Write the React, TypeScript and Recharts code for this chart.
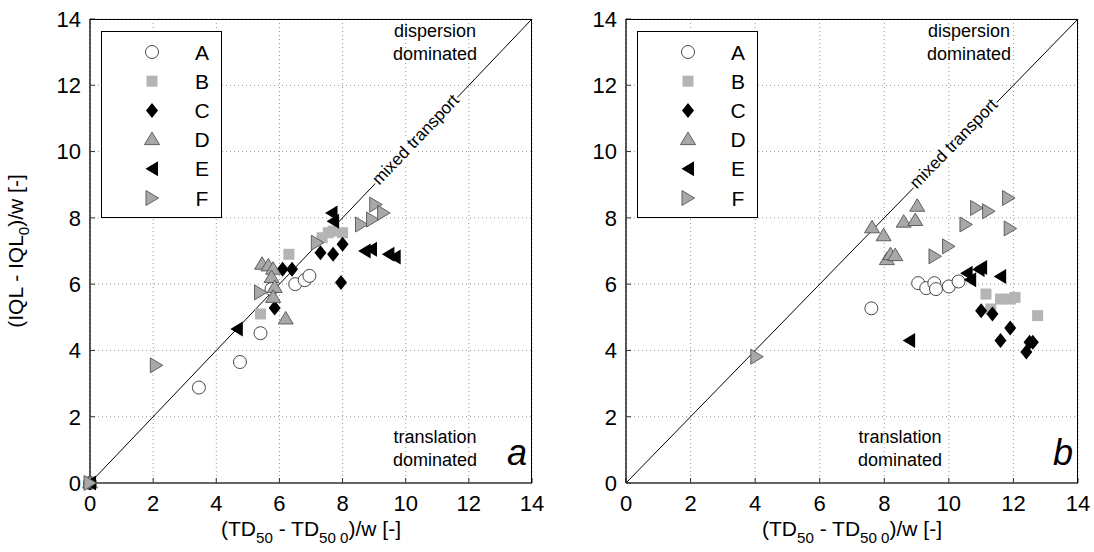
import React from 'react';
import { ScatterChart, Scatter, XAxis, YAxis, CartesianGrid, ReferenceLine } from 'recharts';

const FONT = '"Liberation Sans", Arial, Helvetica, sans-serif';

const axisTicks = [0, 2, 4, 6, 8, 10, 12, 14];
const seriesNames = ['A', 'B', 'C', 'D', 'E', 'F'];

// panel a — [x, y] pairs
const aA = [[0, 0], [3.45, 2.88], [4.75, 3.65], [5.4, 4.52], [5.75, 5.85], [6.5, 6.0], [6.8, 6.12], [6.95, 6.25]];
const aB = [[0, 0], [5.4, 5.1], [6.3, 6.9], [7.35, 7.4], [7.55, 7.55], [7.7, 7.6], [8.0, 7.55]];
const aC = [[0, 0], [5.85, 5.28], [6.1, 6.45], [6.4, 6.45], [7.3, 6.95], [7.7, 6.9], [8.0, 7.2], [7.95, 6.05]];
const aD = [[0, 0], [5.45, 6.6], [5.65, 6.55], [5.8, 6.45], [5.75, 6.2], [5.85, 5.9], [5.8, 5.6], [6.2, 4.95]];
const aE = [[0, 0], [4.65, 4.65], [7.65, 8.15], [7.7, 7.9], [8.7, 7.0], [8.9, 7.05], [9.45, 6.9], [9.65, 6.82]];
const aF = [[0, 0], [2.1, 3.55], [5.4, 5.75], [7.2, 7.25], [8.6, 7.8], [8.95, 7.95], [9.05, 8.4], [9.3, 8.15]];

// panel b
const bA = [[7.6, 5.27], [9.05, 6.03], [9.3, 5.88], [9.55, 6.03], [9.6, 5.85], [10.0, 5.93], [10.3, 6.08]];
const bB = [[11.15, 5.7], [11.3, 5.25], [11.6, 5.55], [11.9, 5.55], [12.05, 5.6], [12.75, 5.05]];
const bC = [[11.0, 5.2], [11.35, 5.1], [11.6, 4.3], [11.9, 4.68], [12.4, 3.95], [12.5, 4.25], [12.6, 4.25]];
const bD = [[7.62, 7.7], [7.98, 7.46], [8.08, 6.74], [8.19, 6.89], [8.34, 6.86], [8.6, 7.87], [8.96, 7.92], [9.02, 8.35]];
const bE = [[8.77, 4.3], [10.55, 6.33], [10.66, 6.13], [10.92, 6.44], [11.0, 6.5], [11.59, 6.23]];
const bF = [[4.05, 3.81], [9.57, 6.84], [9.99, 7.14], [10.53, 7.8], [10.86, 8.3], [11.23, 8.2], [11.85, 8.6], [11.9, 7.68]];

type Kind = 'circle' | 'square' | 'diamond' | 'up' | 'left' | 'right';
const kinds: Kind[] = ['circle', 'square', 'diamond', 'up', 'left', 'right'];

const GRAY = '#a8a8a8';
const EDGE = '#555';

function marker(kind: Kind, cx: number, cy: number, key?: string) {
  switch (kind) {
    case 'circle':
      return <circle key={key} cx={cx} cy={cy} r={6.5} fill="#fff" stroke="#333" strokeWidth={0.9} />;
    case 'square':
      return <rect key={key} x={cx - 5.5} y={cy - 5.5} width={11} height={11} fill="#b4b4b4" />;
    case 'diamond':
      return <polygon key={key} points={`${cx},${cy - 7.5} ${cx + 6},${cy} ${cx},${cy + 7.5} ${cx - 6},${cy}`} fill="#000" />;
    case 'up':
      return <polygon key={key} points={`${cx},${cy - 7.5} ${cx + 7.5},${cy + 5} ${cx - 7.5},${cy + 5}`} fill={GRAY} stroke={EDGE} strokeWidth={0.9} />;
    case 'left':
      return <polygon key={key} points={`${cx - 6.5},${cy} ${cx + 6},${cy - 7.5} ${cx + 6},${cy + 7.5}`} fill="#000" />;
    case 'right':
      return <polygon key={key} points={`${cx + 6.5},${cy} ${cx - 6},${cy - 7.5} ${cx - 6},${cy + 7.5}`} fill={GRAY} stroke={EDGE} strokeWidth={0.9} />;
  }
}

const toPts = (arr: number[][]) => arr.map(([x, y]) => ({ x, y }));

const txt: React.CSSProperties = { position: 'absolute', fontFamily: FONT, color: '#000', whiteSpace: 'nowrap' };
const sub: React.CSSProperties = { fontSize: '0.72em', verticalAlign: '-0.45em' };

const AXIS_W = 30; // y axis band
const AXIS_H = 30; // x axis band
const TICK_FONT = { fill: '#000', fontSize: 22, fontFamily: FONT };

interface PanelProps {
  left: number;
  width: number;
  plotLeft: number;  // relative to panel
  plotRight: number; // relative to panel
  sets: number[][][];
}

function Panel({ left, width, plotLeft, plotRight, sets }: PanelProps) {
  const top = 19;
  const bottom = 483;
  const margin = { top, right: width - plotRight, bottom: 552 - bottom - AXIS_H, left: plotLeft - AXIS_W };
  return (
    <div style={{ position: 'absolute', left, top: 0 }}>
      <ScatterChart width={width} height={552} margin={margin}>
        <CartesianGrid stroke="#999" strokeDasharray="1 3" />
        <XAxis
          type="number" dataKey="x" domain={[0, 14]} ticks={axisTicks} height={AXIS_H}
          tickSize={-5} tickMargin={17}
          tick={TICK_FONT}
          tickLine={{ stroke: '#333' }}
          axisLine={{ stroke: '#666', strokeWidth: 2 }}
        />
        <YAxis
          type="number" dataKey="y" domain={[0, 14]} ticks={axisTicks} width={AXIS_W}
          tickSize={-5} tickMargin={14}
          tick={TICK_FONT}
          tickLine={{ stroke: '#333' }}
          axisLine={{ stroke: '#000', strokeWidth: 1.3 }}
        />
        <ReferenceLine segment={[{ x: 0, y: 0 }, { x: 14, y: 14 }]} stroke="#000" strokeWidth={1} />
        {sets.map((s, i) => (
          <Scatter
            key={seriesNames[i]}
            name={seriesNames[i]}
            data={toPts(s)}
            isAnimationActive={false}
            shape={(p: any) => marker(kinds[i], p.cx, p.cy)}
          />
        ))}
      </ScatterChart>
      {/* box frame: top and right edges */}
      <div style={{
        position: 'absolute', left: plotLeft, top, width: plotRight - plotLeft, height: bottom - top,
        borderTop: '1px solid #000', borderRight: '1px solid #000', boxSizing: 'border-box', pointerEvents: 'none',
      }} />
    </div>
  );
}

function LegendBox({ left, top }: { left: number; top: number }) {
  return (
    <div style={{ position: 'absolute', left, top, width: 119, height: 185, border: '1px solid #000', background: '#fff' }}>
      <svg width={119} height={185} style={{ position: 'absolute', left: 0, top: 0 }}>
        {seriesNames.map((n, i) => {
          const cy = 20 + i * 29.2;
          return (
            <g key={n}>
              {marker(kinds[i], 50, cy)}
              <text x={100} y={cy + 7.5} textAnchor="middle" fontSize={21} fontFamily={FONT} fill="#000">{n}</text>
            </g>
          );
        })}
      </svg>
    </div>
  );
}

function Annotations({ plotLeft, plotRight, disp, trans, letter, mixed, angle }: {
  plotLeft: number; plotRight: number; disp: number; trans: number; letter: string;
  mixed: [number, number]; angle: number;
}) {
  return (
    <>
      <div style={{ ...txt, left: disp, top: 20, fontSize: 18, lineHeight: '23px', textAlign: 'center', transform: 'translateX(-50%)' }}>
        dispersion<br />dominated
      </div>
      <div style={{ ...txt, left: trans, top: 426, fontSize: 18, lineHeight: '23px', textAlign: 'center', transform: 'translateX(-50%)' }}>
        translation<br />dominated
      </div>
      <div style={{ ...txt, left: plotRight - 15, top: 432, fontSize: 36, fontStyle: 'italic', transform: 'translateX(-50%)' }}>
        {letter}
      </div>
      <div style={{
        ...txt, left: mixed[0], top: mixed[1], fontSize: 17, lineHeight: '18px', background: '#fff', padding: '0 1px',
        transform: `translate(-50%, -50%) rotate(${angle}deg)`,
      }}>
        mixed transport
      </div>
      <div style={{ ...txt, left: (plotLeft + plotRight) / 2, top: 517, fontSize: 21, transform: 'translateX(-50%)' }}>
        (TD<span style={sub}>50</span> - TD<span style={sub}>50 0</span>)/w [-]
      </div>
    </>
  );
}

export default function App() {
  return (
    <div style={{ position: 'absolute', left: 0, top: 0, width: 1094, height: 552, background: '#fff', overflow: 'hidden' }}>
      <Panel left={0} width={545} plotLeft={90} plotRight={532} sets={[aA, aB, aC, aD, aE, aF]} />
      <Panel left={545} width={549} plotLeft={81} plotRight={533} sets={[bA, bB, bC, bD, bE, bF]} />

      <LegendBox left={101} top={31} />
      <LegendBox left={637} top={31} />

      <Annotations plotLeft={90} plotRight={532} disp={435} trans={435} letter="a" mixed={[416, 140]} angle={-46.4} />
      <Annotations plotLeft={626} plotRight={1078} disp={969} trans={900} letter="b" mixed={[954, 144]} angle={-45.7} />

      <div style={{
        ...txt, left: 18, top: 251, fontSize: 21,
        transform: 'translate(-50%, -50%) rotate(-90deg)',
      }}>
        (IQL - IQL<span style={sub}>0</span>)/w [-]
      </div>
    </div>
  );
}
